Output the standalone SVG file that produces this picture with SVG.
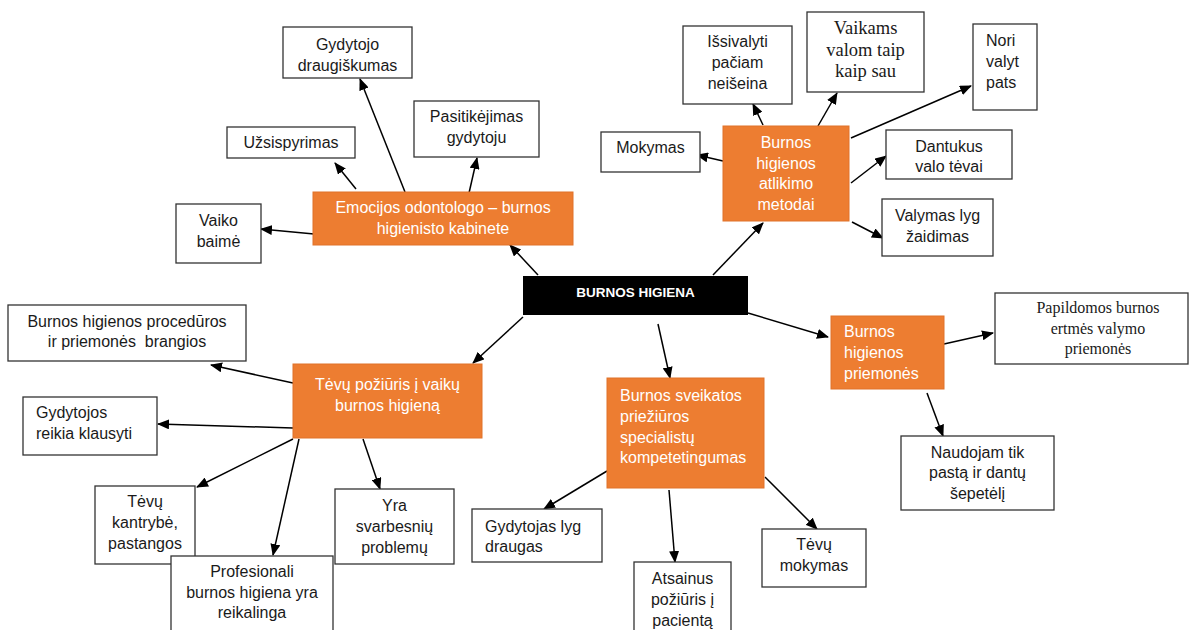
<svg xmlns="http://www.w3.org/2000/svg" width="1189" height="630" viewBox="0 0 1189 630">
<style>
.box{fill:#fff;stroke:#333;stroke-width:1.3}
.org{fill:#ED7D31;stroke:#E0732A;stroke-width:1}
.blk{fill:#000}
text{font-family:"Liberation Sans",Arial,sans-serif;font-size:16px;fill:#1a1a1a;white-space:pre}
.c{text-anchor:middle}
.w{fill:#fff}
.serif{font-family:"Liberation Serif","Times New Roman",serif}
.con line{stroke:#000;stroke-width:1.5;marker-end:url(#ah)}
</style>
<defs>
<marker id="ah" markerUnits="userSpaceOnUse" markerWidth="12" markerHeight="10" refX="11" refY="5" orient="auto">
<path d="M0,0 L12,5 L0,10 Z" fill="#000"/>
</marker>
</defs>
<rect width="1189" height="630" fill="#fff"/>
<g class="con">
<line x1="538" y1="275" x2="510" y2="245"/>
<line x1="713" y1="275" x2="763" y2="223"/>
<line x1="523" y1="317" x2="473" y2="363"/>
<line x1="658" y1="324" x2="670" y2="378"/>
<line x1="748" y1="313" x2="828" y2="337"/>
<line x1="356" y1="189" x2="335" y2="163"/>
<line x1="405" y1="192" x2="360" y2="79"/>
<line x1="469" y1="193" x2="477" y2="158"/>
<line x1="314" y1="234" x2="261" y2="229"/>
<line x1="763" y1="125" x2="753" y2="104"/>
<line x1="818" y1="126" x2="837" y2="93"/>
<line x1="851" y1="138" x2="971" y2="86"/>
<line x1="723" y1="161" x2="697" y2="155"/>
<line x1="851" y1="183" x2="886" y2="156"/>
<line x1="852" y1="222" x2="883" y2="238"/>
<line x1="293" y1="383" x2="211" y2="365"/>
<line x1="293" y1="428" x2="158" y2="424"/>
<line x1="293" y1="439" x2="197" y2="487"/>
<line x1="299" y1="439" x2="273" y2="555"/>
<line x1="363" y1="439" x2="380" y2="489"/>
<line x1="607" y1="471" x2="544" y2="509"/>
<line x1="669" y1="490" x2="675" y2="562"/>
<line x1="765" y1="477" x2="817" y2="529"/>
<line x1="944" y1="344" x2="993" y2="333"/>
<line x1="927" y1="393" x2="943" y2="436"/>
</g>
<g id="root"><rect class="blk" x="523" y="276" width="225" height="39"/><text class="c w" x="635.5" y="297" style="font-weight:bold;font-size:13.5px">BURNOS HIGIENA</text></g>
<g id="emocijos"><rect class="org" x="313" y="192" width="260" height="53"/><text class="c w" x="443" y="213">Emocijos odontologo – burnos</text><text class="c w" x="443" y="234">higienisto kabinete</text></g>
<g id="vaiko-baime"><rect class="box" x="176" y="204" width="85" height="59"/><text class="c" x="218.5" y="226">Vaiko</text><text class="c" x="218.5" y="247">baimė</text></g>
<g id="uzsispyrimas"><rect class="box" x="227" y="127" width="128" height="31"/><text class="c" x="291" y="148">Užsispyrimas</text></g>
<g id="draugiskumas"><rect class="box" x="283" y="27" width="129" height="51"/><text class="c" x="347.5" y="50">Gydytojo</text><text class="c" x="347.5" y="71">draugiškumas</text></g>
<g id="pasitikejimas"><rect class="box" x="414" y="101" width="125" height="56"/><text class="c" x="476.5" y="122">Pasitikėjimas</text><text class="c" x="476.5" y="143">gydytoju</text></g>
<g id="metodai"><rect class="org" x="723" y="126" width="126" height="95"/><text class="c w" x="786" y="148">Burnos</text><text class="c w" x="786" y="169">higienos</text><text class="c w" x="786" y="189">atlikimo</text><text class="c w" x="786" y="210">metodai</text></g>
<g id="issivalyti"><rect class="box" x="683" y="26" width="109" height="78"/><text class="c" x="737.5" y="47">Išsivalyti</text><text class="c" x="737.5" y="68">pačiam</text><text class="c" x="737.5" y="89">neišeina</text></g>
<g id="vaikams"><rect class="box" x="807" y="12" width="117" height="80"/><text class="c serif" x="865.5" y="34" style="font-size:18.5px">Vaikams</text><text class="c serif" x="865.5" y="56" style="font-size:18.5px">valom taip</text><text class="c serif" x="865.5" y="77" style="font-size:18.5px">kaip sau</text></g>
<g id="nori"><rect class="box" x="973" y="24" width="64" height="86"/><text x="986" y="46">Nori</text><text x="986" y="67">valyt</text><text x="986" y="88">pats</text></g>
<g id="mokymas"><rect class="box" x="601" y="132" width="99" height="40"/><text class="c" x="650.5" y="153">Mokymas</text></g>
<g id="dantukus"><rect class="box" x="886" y="130" width="126" height="49"/><text class="c" x="949" y="152">Dantukus</text><text class="c" x="949" y="172">valo tėvai</text></g>
<g id="valymas"><rect class="box" x="882" y="199" width="111" height="57"/><text class="c" x="937.5" y="221">Valymas lyg</text><text class="c" x="937.5" y="242">žaidimas</text></g>
<g id="tevu-poziuris"><rect class="org" x="293" y="364" width="189" height="74"/><text class="c w" x="387.5" y="390">Tėvų požiūris į vaikų</text><text class="c w" x="387.5" y="411">burnos higieną</text></g>
<g id="proceduros"><rect class="box" x="8" y="305" width="238" height="56"/><text class="c" x="127" y="327">Burnos higienos procedūros</text><text class="c" x="127" y="347">ir priemonės  brangios</text></g>
<g id="gydytojos"><rect class="box" x="23" y="397" width="134" height="58"/><text x="36" y="418">Gydytojos</text><text x="36" y="439">reikia klausyti</text></g>
<g id="kantrybe"><rect class="box" x="95" y="486" width="100" height="78"/><text class="c" x="145" y="507">Tėvų</text><text class="c" x="145" y="528">kantrybė,</text><text class="c" x="145" y="549">pastangos</text></g>
<g id="profesionali"><rect class="box" x="171" y="556" width="162" height="84"/><text class="c" x="252" y="577">Profesionali</text><text class="c" x="252" y="598">burnos higiena yra</text><text class="c" x="252" y="618">reikalinga</text></g>
<g id="yra"><rect class="box" x="335" y="489" width="119" height="75"/><text class="c" x="394.5" y="511">Yra</text><text class="c" x="394.5" y="532">svarbesnių</text><text class="c" x="394.5" y="553">problemų</text></g>
<g id="sveikatos"><rect class="org" x="607" y="378" width="157" height="110"/><text class="w" x="620" y="401">Burnos sveikatos</text><text class="w" x="620" y="422">priežiūros</text><text class="w" x="620" y="443">specialistų</text><text class="w" x="620" y="463">kompetetingumas</text></g>
<g id="gydytojas-lyg"><rect class="box" x="472" y="509" width="130" height="53"/><text x="485" y="532">Gydytojas lyg</text><text x="485" y="552">draugas</text></g>
<g id="atsainus"><rect class="box" x="634" y="562" width="97" height="78"/><text class="c" x="682.5" y="584">Atsainus</text><text class="c" x="682.5" y="605">požiūris į</text><text class="c" x="682.5" y="626">pacientą</text></g>
<g id="tevu-mokymas"><rect class="box" x="762" y="529" width="104" height="58"/><text class="c" x="814" y="550">Tėvų</text><text class="c" x="814" y="571">mokymas</text></g>
<g id="priemones"><rect class="org" x="831" y="316" width="113" height="73"/><text class="w" x="844" y="337">Burnos</text><text class="w" x="844" y="358">higienos</text><text class="w" x="844" y="379">priemonės</text></g>
<g id="papildomos"><rect class="box" x="995" y="293" width="193" height="71"/><text class="c serif" x="1098" y="313" style="font-size:16px">Papildomos burnos</text><text class="c serif" x="1098" y="334" style="font-size:16px">ertmės valymo</text><text class="c serif" x="1098" y="354" style="font-size:16px">priemonės</text></g>
<g id="naudojam"><rect class="box" x="901" y="436" width="153" height="74"/><text class="c" x="977.5" y="458">Naudojam tik</text><text class="c" x="977.5" y="478">pastą ir dantų</text><text class="c" x="977.5" y="499">šepetėlį</text></g>
</svg>
